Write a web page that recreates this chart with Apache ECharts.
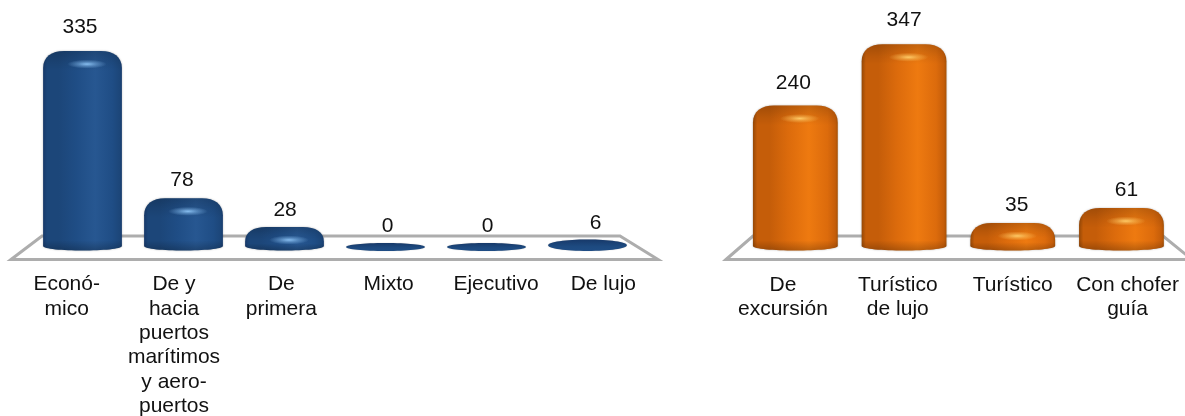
<!DOCTYPE html>
<html><head><meta charset="utf-8">
<style>html,body{margin:0;padding:0;background:#fff}#c{width:1185px;height:416px}</style>
<script src="https://cdn.jsdelivr.net/npm/echarts@6/dist/echarts.min.js"></script>
</head><body><div id="c"></div>
<script>
const categoriesA = ['Econó-\nmico','De y\nhacia\npuertos\nmarítimos\ny aero-\npuertos','De\nprimera','Mixto','Ejecutivo','De lujo'];
const valuesA = [335,78,28,0,0,6];
const categoriesB = ['De\nexcursión','Turístico\nde lujo','Turístico','Con chofer\nguía'];
const valuesB = [240,347,35,61];
const labelShiftA = [-2.5,-1.5,0.6,2,1,8];
const labelShiftB = [-2,0,4,5];

const FONT = '"Liberation Sans", Arial, sans-serif';
const BLUE = {edge0:'#17396a',edge1:'#183c6e',low:'#1c4679',mid:'#1f4d85',hi:'#275791',flat:'#1d4a80',glow:'rgba(140,195,245,0.95)'};
const ORANGE = {edge0:'#964806',edge1:'#a85206',low:'#c55d09',mid:'#dc6b0c',hi:'#ee7a10',flat:'#c8600a',glow:'rgba(255,205,105,0.95)'};

function makeRender(pal, shifts){
  return function(params, api){
    const i = api.value(0), v = api.value(1);
    const p0 = api.coord([i,0]), pv = api.coord([i,v]);
    const w = api.size([1,0])[0]*0.78;
    const ry = 4.5;
    const l = p0[0]-w/2, r = p0[0]+w/2;
    const top = pv[1]-4, y0 = p0[1], h = y0+4-top;
    const labelY = top-(16.5+8*v/350);
    const children = [];
    const hGrad = {type:'linear',x:0,y:0,x2:1,y2:0,colorStops:[
      {offset:0,color:pal.edge0},{offset:0.05,color:pal.low},{offset:0.2,color:pal.low},{offset:0.42,color:pal.mid},
      {offset:0.66,color:pal.hi},{offset:0.88,color:pal.mid},{offset:0.97,color:pal.low},{offset:1,color:pal.edge1}]};
    if (h <= 14) {
      children.push({type:'ellipse',shape:{cx:p0[0],cy:(top+y0+4)/2,rx:w/2,ry:h/2},
        style:{shadowBlur:1,shadowColor:'rgba(0,0,0,0.3)',fill:{type:'linear',x:0,y:0,x2:0,y2:1,colorStops:[{offset:0,color:pal.edge0},{offset:0.6,color:pal.flat},{offset:1,color:pal.mid}]}}});
    } else {
      const rc = Math.min(17,h*0.6), rx = Math.min(21,w*0.27);
      const d = 'M'+l+' '+(top+rc)+
        'C'+l+' '+(top+rc*0.35)+' '+(l+rx*0.4)+' '+top+' '+(l+rx)+' '+top+
        'L'+(r-rx)+' '+top+
        'C'+(r-rx*0.4)+' '+top+' '+r+' '+(top+rc*0.35)+' '+r+' '+(top+rc)+
        'L'+r+' '+(y0-1)+
        'C'+r+' '+(y0-1+ry*4/3)+' '+l+' '+(y0-1+ry*4/3)+' '+l+' '+(y0-1)+'Z';
      const capF = Math.min(0.55,(rc+3)/h), bandF = Math.min(0.3,10/h);
      children.push({type:'path',shape:{pathData:d},style:{fill:hGrad,shadowBlur:2,shadowColor:'rgba(0,0,0,0.3)'}});
      children.push({type:'path',shape:{pathData:d},style:{fill:{type:'linear',x:0,y:0,x2:0,y2:1,colorStops:[
        {offset:0,color:'rgba(0,0,0,0.18)'},{offset:capF*0.6,color:'rgba(0,0,0,0.06)'},
        {offset:capF,color:'rgba(0,0,0,0)'},
        {offset:1-bandF,color:'rgba(0,0,0,0)'},{offset:1,color:'rgba(0,0,0,0.22)'}]}}});
      children.push({type:'circle',x:p0[0]+4.5,y:top+Math.min(13,h*0.55),scaleX:4.4,shape:{cx:0,cy:0,r:4.5},
        style:{fill:{type:'radial',x:0.5,y:0.5,r:0.5,colorStops:[{offset:0,color:pal.glow},{offset:0.45,color:pal.glow.replace('0.95','0.45')},{offset:1,color:pal.glow.replace('0.95','0')}]}}});
    }
    children.push({type:'text',style:{text:String(v),x:p0[0]+shifts[i],y:labelY,align:'center',verticalAlign:'middle',
      font:'21px '+FONT,fill:'#111'}});
    return {type:'group',children};
  };
}
function xAxisOf(cats, grid, show){
  return {type:'category',gridIndex:grid,data:cats,axisLine:{show:false},axisTick:{show:false},splitLine:{show:false},
    axisLabel:show?{show:true,interval:0,margin:14,hideOverlap:false,color:'#111',fontFamily:FONT,fontSize:21,lineHeight:24.4,align:'center'}:{show:false}};
}
function yAxisOf(grid){ return {type:'value',gridIndex:grid,min:0,max:350,interval:50,show:false}; }
function floor(pts){ return {type:'polygon',z:0,shape:{points:pts},style:{fill:'#fff',stroke:'#adadad',lineWidth:3,lineJoin:'miter'}}; }

const chart = echarts.init(document.getElementById('c'),null,{renderer:'canvas'});
chart.setOption({
  animation:false,
  backgroundColor:'#fff',
  graphic:[floor([[11,259.5],[42,236],[620,236],[658,259.5]]),floor([[726,259.5],[753,236],[1163,236],[1192,259.5]])],
  grid:[
    {left:32,width:606,top:46.5,height:200.5},
    {left:13,width:644,top:258,height:1},
    {left:741,width:434.8,top:46.5,height:200.5},
    {left:725.5,width:464,top:258,height:1}
  ],
  xAxis:[xAxisOf(categoriesA,0,false),xAxisOf(categoriesA,1,true),xAxisOf(categoriesB,2,false),xAxisOf(categoriesB,3,true)],
  yAxis:[yAxisOf(0),yAxisOf(1),yAxisOf(2),yAxisOf(3)],
  series:[
    {type:'custom',xAxisIndex:0,yAxisIndex:0,z:5,clip:false,renderItem:makeRender(BLUE,labelShiftA),encode:{x:0,y:1},data:valuesA.map((v,i)=>[i,v])},
    {type:'custom',xAxisIndex:2,yAxisIndex:2,z:5,clip:false,renderItem:makeRender(ORANGE,labelShiftB),encode:{x:0,y:1},data:valuesB.map((v,i)=>[i,v])}
  ]
});
</script></body></html>
